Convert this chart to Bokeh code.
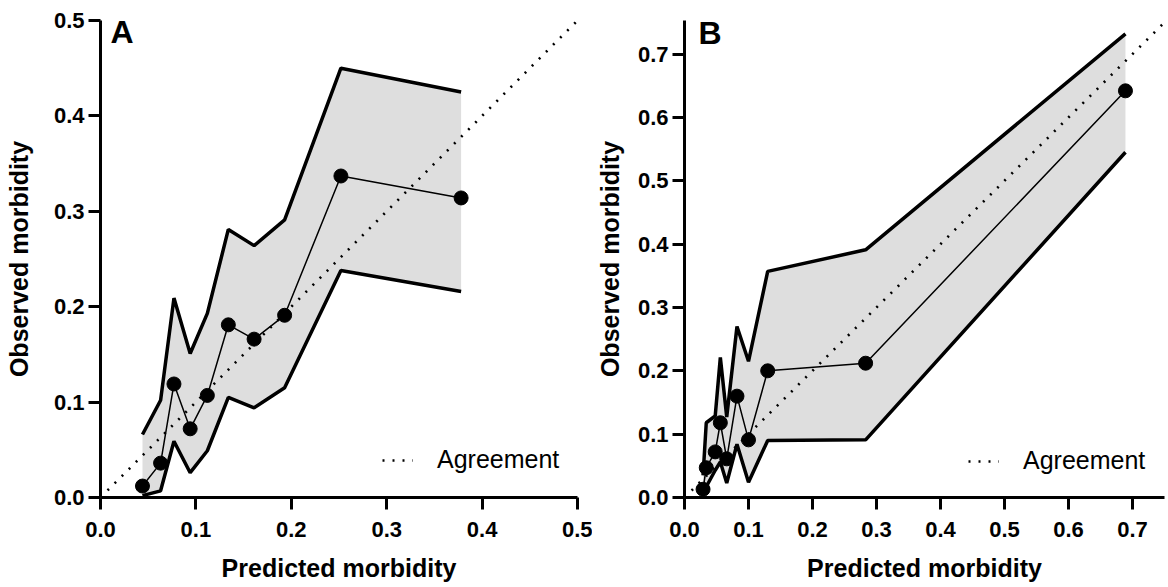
from bokeh.plotting import figure
from bokeh.models import Range1d, FixedTicker, PrintfTickFormatter, Label, Legend, LegendItem
from bokeh.layouts import row
from bokeh.embed import file_html
from bokeh.resources import INLINE

# ---------------- Panel A data ----------------
a_pred = [0.044, 0.063, 0.077, 0.094, 0.112, 0.134, 0.161, 0.193, 0.252, 0.378]
a_obs = [0.012, 0.036, 0.119, 0.072, 0.107, 0.181, 0.166, 0.191, 0.337, 0.314]
a_upper = [0.066, 0.102, 0.209, 0.151, 0.193, 0.281, 0.264, 0.291, 0.450, 0.425]
a_lower = [0.002, 0.007, 0.059, 0.026, 0.049, 0.105, 0.094, 0.115, 0.238, 0.216]
a_agree = [0.0, 0.5]
a_ticks = [0.0, 0.1, 0.2, 0.3, 0.4, 0.5]

# ---------------- Panel B data ----------------
b_pred = [0.029, 0.034, 0.048, 0.056, 0.066, 0.082, 0.100, 0.130, 0.283, 0.689]
b_obs = [0.013, 0.047, 0.072, 0.118, 0.061, 0.160, 0.091, 0.200, 0.212, 0.642]
b_upper = [0.035, 0.118, 0.129, 0.221, 0.127, 0.270, 0.215, 0.357, 0.391, 0.732]
b_lower = [0.002, 0.017, 0.043, 0.056, 0.023, 0.084, 0.024, 0.090, 0.091, 0.545]
b_agree = [0.0, 0.75]
b_ticks = [0.0, 0.1, 0.2, 0.3, 0.4, 0.5, 0.6, 0.7]

FONT = "Liberation Sans"


def panel(pred, obs, upper, lower, agree, ticks, xmax, ymax, letter, letter_x, letter_y,
          width, border_left, border_right, border_top, border_bottom, legend_loc,
          ylabel_standoff):
    p = figure(width=width, height=585, x_range=Range1d(0, xmax), y_range=Range1d(0, ymax),
               output_backend="svg", toolbar_location=None,
               min_border_left=border_left, min_border_right=border_right,
               min_border_top=border_top, min_border_bottom=border_bottom)
    p.outline_line_color = None
    p.grid.visible = False
    p.background_fill_color = "white"

    # confidence band
    p.varea(x=pred, y1=lower, y2=upper, fill_color="#dedede")
    p.line(pred, upper, line_color="black", line_width=3.5)
    p.line(pred, lower, line_color="black", line_width=3.5)

    # agreement line
    agree_r = p.line(agree, agree, line_color="black", line_width=2.6, line_dash="2 8")

    # observed vs predicted
    p.line(pred, obs, line_color="black", line_width=1.5)
    p.scatter(pred, obs, size=14, fill_color="black", line_color="black")

    for ax in (p.xaxis[0], p.yaxis[0]):
        ax.ticker = FixedTicker(ticks=ticks)
        ax.formatter = PrintfTickFormatter(format="%.1f")
        ax.axis_line_width = 3
        ax.major_tick_line_width = 3
        ax.major_tick_in = 0
        ax.major_tick_out = 12
        ax.minor_tick_line_color = None
        ax.major_label_text_font = FONT
        ax.major_label_text_font_style = "bold"
        ax.major_label_text_font_size = "22px"
        ax.major_label_text_color = "black"
        ax.axis_label_text_font = FONT
        ax.axis_label_text_font_style = "bold"
        ax.axis_label_text_font_size = "25px"
        ax.axis_label_text_color = "black"
        ax.axis_line_color = "black"
        ax.major_tick_line_color = "black"
    p.xaxis.axis_label = "Predicted morbidity"
    p.yaxis.axis_label = "Observed morbidity"
    p.xaxis.major_label_standoff = 12
    p.xaxis.axis_label_standoff = 14
    p.yaxis.major_label_standoff = 4
    p.yaxis.axis_label_standoff = ylabel_standoff

    p.add_layout(Label(x=letter_x, y=letter_y, text=letter, text_font=FONT,
                       text_font_style="bold", text_font_size="32px",
                       text_baseline="top", text_color="black"))

    legend = Legend(items=[LegendItem(label="Agreement", renderers=[agree_r])],
                    location=legend_loc, glyph_width=31, glyph_height=22,
                    label_standoff=24, padding=0, margin=0, spacing=0,
                    border_line_color=None, background_fill_alpha=0,
                    label_text_font=FONT, label_text_font_size="25px",
                    label_text_color="black", label_height=22)
    p.add_layout(legend)
    return p


pa = panel(a_pred, a_obs, a_upper, a_lower, a_agree, a_ticks, 0.5, 0.5, "A", 0.0105, 0.5063,
           width=592, border_left=100, border_right=15, border_top=20, border_bottom=88,
           legend_loc=(282, 23), ylabel_standoff=18)
pb = panel(b_pred, b_obs, b_upper, b_lower, b_agree, b_ticks, 0.75, 0.753, "B", 0.022, 0.761,
           width=576, border_left=92, border_right=4, border_top=18, border_bottom=86,
           legend_loc=(284, 22), ylabel_standoff=11)

layout = row(pa, pb)
open("out.html", "w").write(file_html(layout, INLINE))
